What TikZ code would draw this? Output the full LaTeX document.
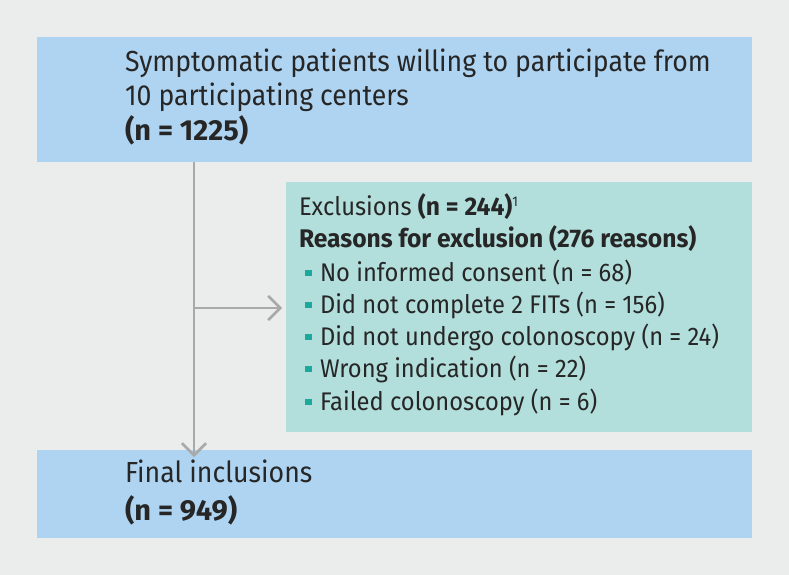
\documentclass[tikz,border=0pt]{standalone}
\usepackage{fontspec}
\setmainfont{Fira Sans}
\newfontfamily\condfont[FakeStretch=0.92]{Fira Sans}
\newfontfamily\condbold[FakeStretch=1.0]{Fira Sans Bold}
\newfontfamily\midfont[FakeStretch=0.93]{Fira Sans}
\newfontfamily\midbold[FakeStretch=0.965]{Fira Sans Bold}
\usetikzlibrary{arrows.meta}
\definecolor{bg}{HTML}{EBECEC}
\definecolor{boxblue}{HTML}{AED4F1}
\definecolor{boxteal}{HTML}{B2DFDC}
\definecolor{linegray}{HTML}{A9A9A9}
\definecolor{txtc}{HTML}{262626}
\definecolor{bulc}{HTML}{1AA99B}
\tikzset{
  box/.style={draw=none, inner sep=0pt, outer sep=0pt, anchor=north west},
  txt/.style={inner sep=0pt, outer sep=0pt, anchor=base west, text=txtc},
  conn/.style={draw=linegray, line width=2.6pt, -{Straight Barb[length=12pt,width=24pt,line width=2.6pt]}},
}
\newcommand{\bigtxt}{\condfont\fontsize{29}{34}\selectfont}
\newcommand{\bigbold}{\condbold\fontsize{29}{34}\selectfont}
\newcommand{\midtxt}{\midfont\fontsize{25.5}{32}\selectfont}
\newcommand{\midbf}{\midbold\fontsize{25.5}{32}\selectfont}
\newcommand{\bul}{{\color{bulc}\rule[4.8pt]{6.5pt}{6.5pt}}\hspace{8.5pt}}
\begin{document}
\begin{tikzpicture}[x=1pt,y=-1pt]
\fill[bg] (0,0) rectangle (789,575);
\useasboundingbox (0,0) rectangle (789,575);
\node[box, fill=boxblue, minimum width=715pt, minimum height=125pt] (top) at (37,37) {};
\node[box, fill=boxteal, minimum width=466pt, minimum height=250pt] (excl) at (286,182) {};
\node[box, fill=boxblue, minimum width=715pt, minimum height=88pt] (bot) at (37,450) {};

\node[txt] (t1) at (125,71.7) {\bigtxt Symptomatic patients willing to participate from};
\node[txt] (t2) at (125,106) {\bigtxt 10 participating centers};
\node[txt] (t3) at (125,140) {\bigbold (n = 1225)};

\node[txt] (e1) at (299,215.7) {\midtxt Exclusions {\midbf (n = 244)}\textsuperscript{\fontsize{14}{14}\selectfont 1}};
\node[txt] (e2) at (299,247.7) {\midbf Reasons for exclusion (276 reasons)};
\node[txt] (e3) at (305,281) {\midtxt\bul No informed consent (n = 68)};
\node[txt] (e4) at (305,313) {\midtxt\bul Did not complete 2 FITs (n = 156)};
\node[txt] (e5) at (305,345) {\midtxt\bul Did not undergo colonoscopy (n = 24)};
\node[txt] (e6) at (305,377) {\midtxt\bul Wrong indication (n = 22)};
\node[txt] (e7) at (305,410) {\midtxt\bul Failed colonoscopy (n = 6)};

\node[txt] (b1) at (125,482) {\bigtxt Final inclusions};
\node[txt] (b2) at (125,520) {\bigbold (n = 949)};

\coordinate (vx) at (194,0);
\coordinate (br) at (194,308);
\draw[conn] (top.south -| vx) -- ([yshift=-7pt]bot.north -| vx);
\draw[conn] (br) -- ([xshift=-4pt]excl.west |- br);
\end{tikzpicture}
\end{document}
